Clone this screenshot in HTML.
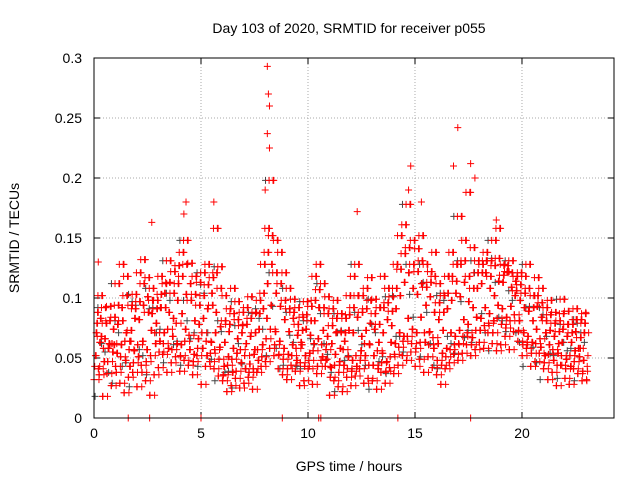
<!DOCTYPE html>
<html><head><meta charset="utf-8"><style>
body{margin:0;background:#fff;}
svg{display:block;font-family:"Liberation Sans",sans-serif;}
</style></head><body>
<svg id="chart" width="640" height="480">
<text x="349" y="33" text-anchor="middle" font-size="14">Day 103 of 2020, SRMTID for receiver p055</text>
<text x="349" y="471" text-anchor="middle" font-size="14">GPS time / hours</text>
<text transform="translate(19,238) rotate(-90)" text-anchor="middle" font-size="14">SRMTID / TECUs</text>
<g id="grid"></g><g id="ticks"></g><g id="marks"></g>
<rect x="94" y="58" width="520" height="360" fill="none" stroke="#000"/>
</svg>
<script>
const xTicks=[0,5,10,15,20];
const yTicks=[0,0.05,0.1,0.15,0.2,0.25,0.3];
const yTickLabels=["0","0.05","0.1","0.15","0.2","0.25","0.3"];
const tStart=0, tStep=0.2;
const lo=[.032,.041,.018,.037,.027,.043,.029,.021,.034,.038,.026,.044,.031,.019,.036,.042,.053,.038,.046,.051,.039,.048,.044,.036,.052,.028,.043,.047,.041,.035,.031,.022,.027,.033,.025,.029,.034,.024,.038,.043,.047,.058,.052,.041,.036,.032,.044,.039,.027,.031,.041,.028,.037,.048,.043,.019,.031,.026,.022,.034,.027,.035,.041,.029,.033,.031,.024,.038,.029,.042,.037,.044,.052,.048,.055,.043,.049,.038,.051,.042,.036,.028,.041,.046,.053,.048,.054,.061,.052,.057,.063,.058,.071,.062,.056,.061,.068,.057,.072,.064,.052,.058,.043,.047,.054,.041,.032,.038,.027,.044,.033,.028,.041,.037,.031];
const a=[.043,.036,.058,.047,.062,.038,.051,.064,.057,.046,.061,.038,.047,.052,.071,.055,.062,.074,.057,.079,.052,.064,.069,.047,.058,.071,.064,.054,.057,.049,.036,.044,.049,.039,.057,.052,.038,.041,.057,.051,.066,.074,.061,.053,.049,.041,.052,.058,.046,.043,.048,.056,.043,.061,.057,.034,.044,.038,.057,.041,.039,.052,.048,.062,.044,.044,.056,.046,.039,.051,.053,.059,.064,.068,.062,.058,.063,.071,.061,.067,.048,.044,.051,.057,.061,.062,.068,.071,.061,.073,.073,.077,.079,.071,.083,.078,.075,.081,.086,.073,.061,.063,.054,.062,.066,.046,.053,.057,.044,.052,.041,.052,.047,.058,.039];
const m1=[.052,.063,.047,.058,.055,.054,.061,.048,.043,.056,.051,.064,.057,.073,.062,.064,.071,.058,.068,.062,.061,.074,.057,.053,.066,.058,.052,.063,.071,.059,.043,.051,.038,.054,.046,.041,.045,.053,.048,.061,.083,.094,.072,.064,.058,.053,.061,.048,.063,.052,.054,.062,.066,.051,.049,.042,.053,.047,.044,.051,.048,.043,.056,.052,.061,.052,.041,.054,.047,.063,.062,.071,.068,.083,.074,.071,.084,.063,.072,.058,.062,.054,.058,.071,.068,.073,.082,.078,.067,.084,.083,.092,.087,.081,.094,.091,.084,.093,.102,.081,.071,.068,.063,.074,.059,.052,.061,.048,.054,.063,.049,.043,.056,.051,.048];
const m2=[.071,.083,.066,.062,.074,.078,.092,.071,.064,.083,.082,.094,.101,.087,.079,.092,.104,.088,.083,.098,.087,.103,.112,.081,.078,.083,.091,.104,.088,.076,.063,.072,.058,.066,.071,.062,.068,.057,.074,.091,.112,.128,.104,.093,.082,.072,.083,.069,.061,.074,.069,.081,.092,.073,.068,.062,.071,.058,.064,.073,.071,.084,.068,.073,.079,.074,.063,.071,.082,.077,.091,.102,.113,.121,.108,.103,.112,.094,.101,.088,.082,.073,.091,.098,.104,.101,.113,.097,.092,.108,.112,.121,.108,.102,.114,.113,.122,.109,.114,.098,.092,.089,.081,.093,.084,.071,.073,.068,.062,.074,.068,.063,.072,.058,.071];
const b=[.079,.068,.092,.081,.061,.094,.081,.102,.073,.091,.097,.112,.088,.098,.091,.103,.092,.113,.104,.112,.118,.128,.098,.103,.094,.102,.111,.094,.121,.108,.081,.078,.087,.082,.077,.078,.083,.071,.087,.104,.138,.152,.121,.112,.098,.091,.088,.078,.073,.086,.081,.098,.107,.092,.087,.077,.083,.072,.071,.086,.092,.102,.088,.091,.098,.087,.078,.092,.096,.089,.108,.124,.137,.142,.128,.122,.131,.109,.113,.118,.096,.088,.104,.118,.114,.128,.131,.118,.108,.121,.121,.131,.118,.127,.133,.119,.127,.121,.106,.111,.104,.108,.092,.102,.096,.081,.086,.079,.072,.087,.078,.071,.082,.067,.079];
const hi=[.088,.102,.079,.093,.084,.112,.128,.118,.094,.103,.121,.132,.117,.108,.098,.118,.112,.131,.122,.127,.138,.148,.129,.118,.113,.121,.128,.117,.158,.126,.102,.091,.108,.097,.088,.092,.101,.088,.098,.128,.158,.198,.148,.138,.121,.108,.099,.092,.084,.097,.093,.118,.128,.112,.101,.091,.098,.087,.083,.102,.118,.128,.102,.108,.117,.099,.092,.118,.108,.101,.128,.152,.161,.178,.148,.141,.152,.128,.122,.138,.112,.102,.118,.138,.128,.168,.148,.188,.142,.131,.128,.138,.131,.148,.158,.128,.122,.131,.118,.121,.118,.128,.102,.117,.108,.092,.098,.088,.081,.099,.089,.078,.091,.082,.087];
const peakT=[4.3,4.2,5.6,8.1,8.15,8.2,8.1,8.2,8.0,12.3,14.8,14.7,15.3,17.0,17.6,17.8,16.8,18.8,2.7,0.2,1.6,2.6,5.0,8.8,10.5,10.6,14.2,17.6];
const peakV=[.18,.17,.18,.293,.27,.26,.237,.225,.19,.172,.21,.19,.18,.242,.212,.2,.21,.165,.163,.13,0,0,0,0,0,0,0,0];
const NS="http://www.w3.org/2000/svg";
const X0=94,X1=614,Y0=418,Y1=58,XMAX=24.3,YMAX=0.3;
const sx=t=>X0+(t/XMAX)*(X1-X0);
const sy=v=>Y0-(v/YMAX)*(Y0-Y1);
function mk(tag,attrs,parent){const e=document.createElementNS(NS,tag);for(const k in attrs)e.setAttribute(k,attrs[k]);parent.appendChild(e);return e;}
const grid=document.getElementById('grid'),ticks=document.getElementById('ticks'),marks=document.getElementById('marks');
xTicks.forEach(t=>{const x=sx(t);
 if(t>0){const g=mk('line',{x1:x,x2:x,y1:Y1,y2:Y0,stroke:'#aaa','stroke-dasharray':'1,2'},grid);
 
 }
 mk('line',{x1:x,x2:x,y1:Y0,y2:Y0-6,stroke:'#000'},ticks);mk('line',{x1:x,x2:x,y1:Y1,y2:Y1+6,stroke:'#000'},ticks);
 const l=mk('text',{x:x,y:Y0+20,'text-anchor':'middle','font-size':14},ticks);l.textContent=t;
 
 });
yTicks.forEach((v,i)=>{const y=sy(v);
 if(v>0&&v<YMAX){const g=mk('line',{x1:X0,x2:X1,y1:y,y2:y,stroke:'#aaa','stroke-dasharray':'1,2'},grid);
 
 }
 mk('line',{x1:X0,x2:X0+6,y1:y,y2:y,stroke:'#000'},ticks);mk('line',{x1:X1,x2:X1-6,y1:y,y2:y,stroke:'#000'},ticks);
 const l=mk('text',{x:X0-12,y:y+5,'text-anchor':'end','font-size':14},ticks);l.textContent=yTickLabels[i];
 
 });
function plus(t,v,col){const x=sx(t),y=sy(v);
 const p=mk('path',{d:`M${x-3.5},${y}h7M${x},${y-3.5}v7`,stroke:col,'stroke-width':1,fill:'none'},marks);
 
 }
const series=[lo,a,m1,m2,b,hi];
const n=lo.length;
// gray receiver series beneath (sparse)
series.forEach((arr,k)=>arr.forEach((v,i)=>{ if((i+k)%4===0) plus(tStart+i*tStep+k*0.033+0.05,arr[(i+2)%n],'#444'); }));
series.forEach((arr,k)=>arr.forEach((v,i)=>{
 plus(tStart+i*tStep+k*0.033,v,'#f00');
 plus(tStart+i*tStep+k*0.033+0.1,series[(k+2)%6][i],'#f00');
 plus(tStart+i*tStep+k*0.033+0.15,series[(k+4)%6][(i+1)%n],'#f00');
}));
peakT.forEach((t,i)=>plus(t,peakV[i],'#f00'));
</script>
</body></html>
